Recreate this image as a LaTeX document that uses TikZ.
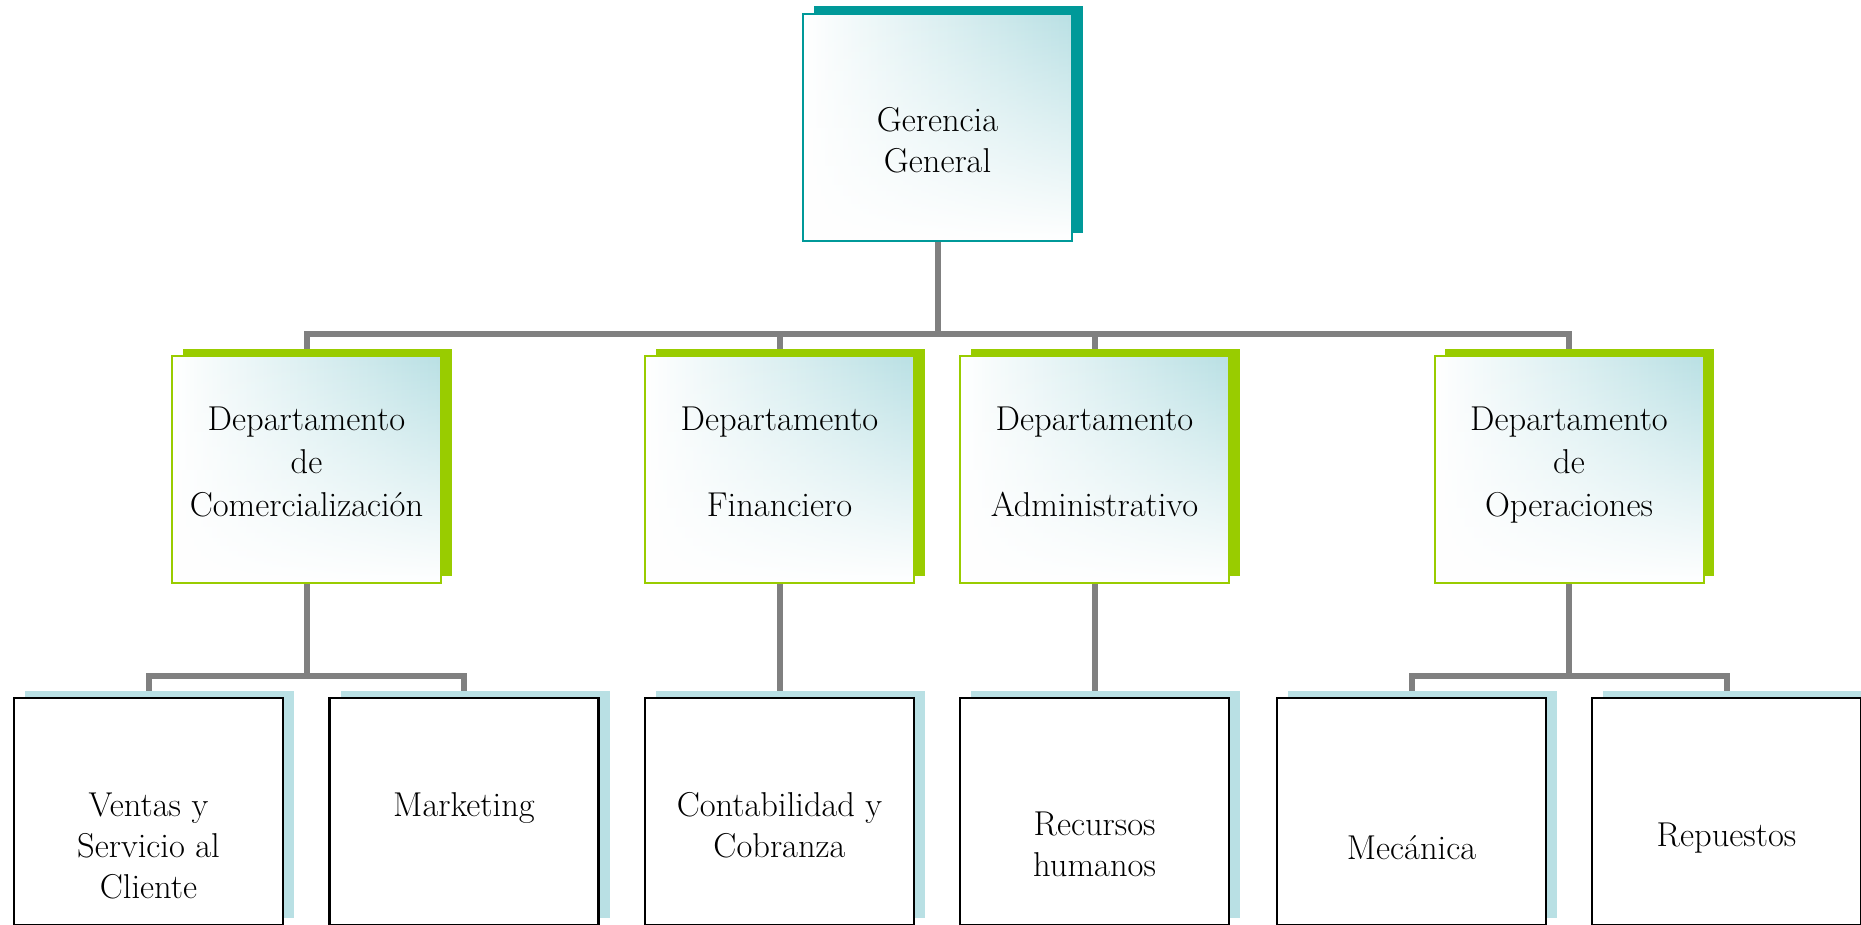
\documentclass[tikz,border=0pt]{standalone}
\usepackage{fontspec}
\usetikzlibrary{shadows,backgrounds,fadings}
\definecolor{teal1}{RGB}{0,153,153}
\definecolor{lime1}{RGB}{153,204,0}
\definecolor{lb}{RGB}{185,224,228}
\definecolor{connc}{RGB}{128,128,128}
\tikzfading[name=bottomwhite, top color=transparent!100, middle color=transparent!55, bottom color=transparent!0]
\tikzset{
  box/.style={rectangle, inner sep=0pt, minimum width=269pt, minimum height=227pt},
  glow/.style={left color=white, right color=lb,
    path picture={\fill[white, path fading=bottomwhite]
      (path picture bounding box.south west) rectangle (path picture bounding box.north east);}},
  topbox/.style={box, draw=teal1, line width=2pt, glow,
    general shadow={fill=teal1, shadow xshift=11pt, shadow yshift=8pt}},
  deptbox/.style={box, draw=lime1, line width=2pt, glow,
    general shadow={fill=lime1, shadow xshift=10.5pt, shadow yshift=7pt}},
  unitbox/.style={box, draw=black, line width=2.5pt, fill=white,
    general shadow={fill=lb, shadow xshift=11pt, shadow yshift=7pt}},
  lbl/.style={anchor=north, inner sep=0pt, align=center, font=\fontsize{34.5}{41}\selectfont},
  dlbl/.style={lbl, font=\fontsize{34.5}{43}\selectfont},
  conn/.style={draw=connc, line width=6pt, line join=miter}
}
\begin{document}
\begin{tikzpicture}[x=1pt,y=-1pt]
\useasboundingbox (0,0) rectangle (1861,925);
% boxes
\node[topbox] (g) at (937.5,127.5) {};
\node[deptbox] (d1) at (306.5,469.5) {};
\node[deptbox] (d2) at (779.5,469.5) {};
\node[deptbox] (d3) at (1094.5,469.5) {};
\node[deptbox] (d4) at (1569,469.5) {};
\node[unitbox] (u1) at (148.5,811.5) {};
\node[unitbox] (u2) at (464,811.5) {};
\node[unitbox] (u3) at (779.5,811.5) {};
\node[unitbox] (u4) at (1094.5,811.5) {};
\node[unitbox] (u5) at (1411.5,811.5) {};
\node[unitbox] (u6) at (1726.5,811.5) {};
% labels
\node[lbl] (tg) at (937.5,107) {Gerencia\\General};
\node[dlbl] (t1) at (306.5,407) {Departamento\\de\\Comercialización};
\node[dlbl] (t2) at (779.5,407) {Departamento\\[43pt]Financiero};
\node[dlbl] (t3) at (1094.5,407) {Departamento\\[43pt]Administrativo};
\node[dlbl] (t4) at (1569,407) {Departamento\\de\\Operaciones};
\node[lbl] (s1) at (148.5,793) {Ventas y\\Servicio al\\Cliente};
\node[lbl] (s2) at (464,792) {Marketing};
\node[lbl] (s3) at (779.5,792) {Contabilidad y\\Cobranza};
\node[lbl] (s4) at (1094.5,812) {Recursos\\humanos};
\node[lbl] (s5) at (1411.5,835) {Mecánica};
\node[lbl] (s6) at (1726.5,823) {Repuestos};
% connectors
\coordinate (bus) at (937.5,334);
\coordinate (busA) at (306.5,675.5);
\coordinate (busB) at (1569,675.5);
\begin{scope}[on background layer]
\fill[white] (0,0) rectangle (1861,925);
\draw[conn] (g.south) -- (bus);
\draw[conn] (d1.north) -- (d1.north |- bus) -- (d4.north |- bus) -- (d4.north);
\draw[conn] (d2.north) -- (d2.north |- bus);
\draw[conn] (d3.north) -- (d3.north |- bus);
\draw[conn] (d1.south) -- (busA);
\draw[conn] (u1.north) -- (u1.north |- busA) -- (u2.north |- busA) -- (u2.north);
\draw[conn] (d2.south) -- (u3.north);
\draw[conn] (d3.south) -- (u4.north);
\draw[conn] (d4.south) -- (busB);
\draw[conn] (u5.north) -- (u5.north |- busB) -- (u6.north |- busB) -- (u6.north);
\end{scope}
\end{tikzpicture}
\end{document}
